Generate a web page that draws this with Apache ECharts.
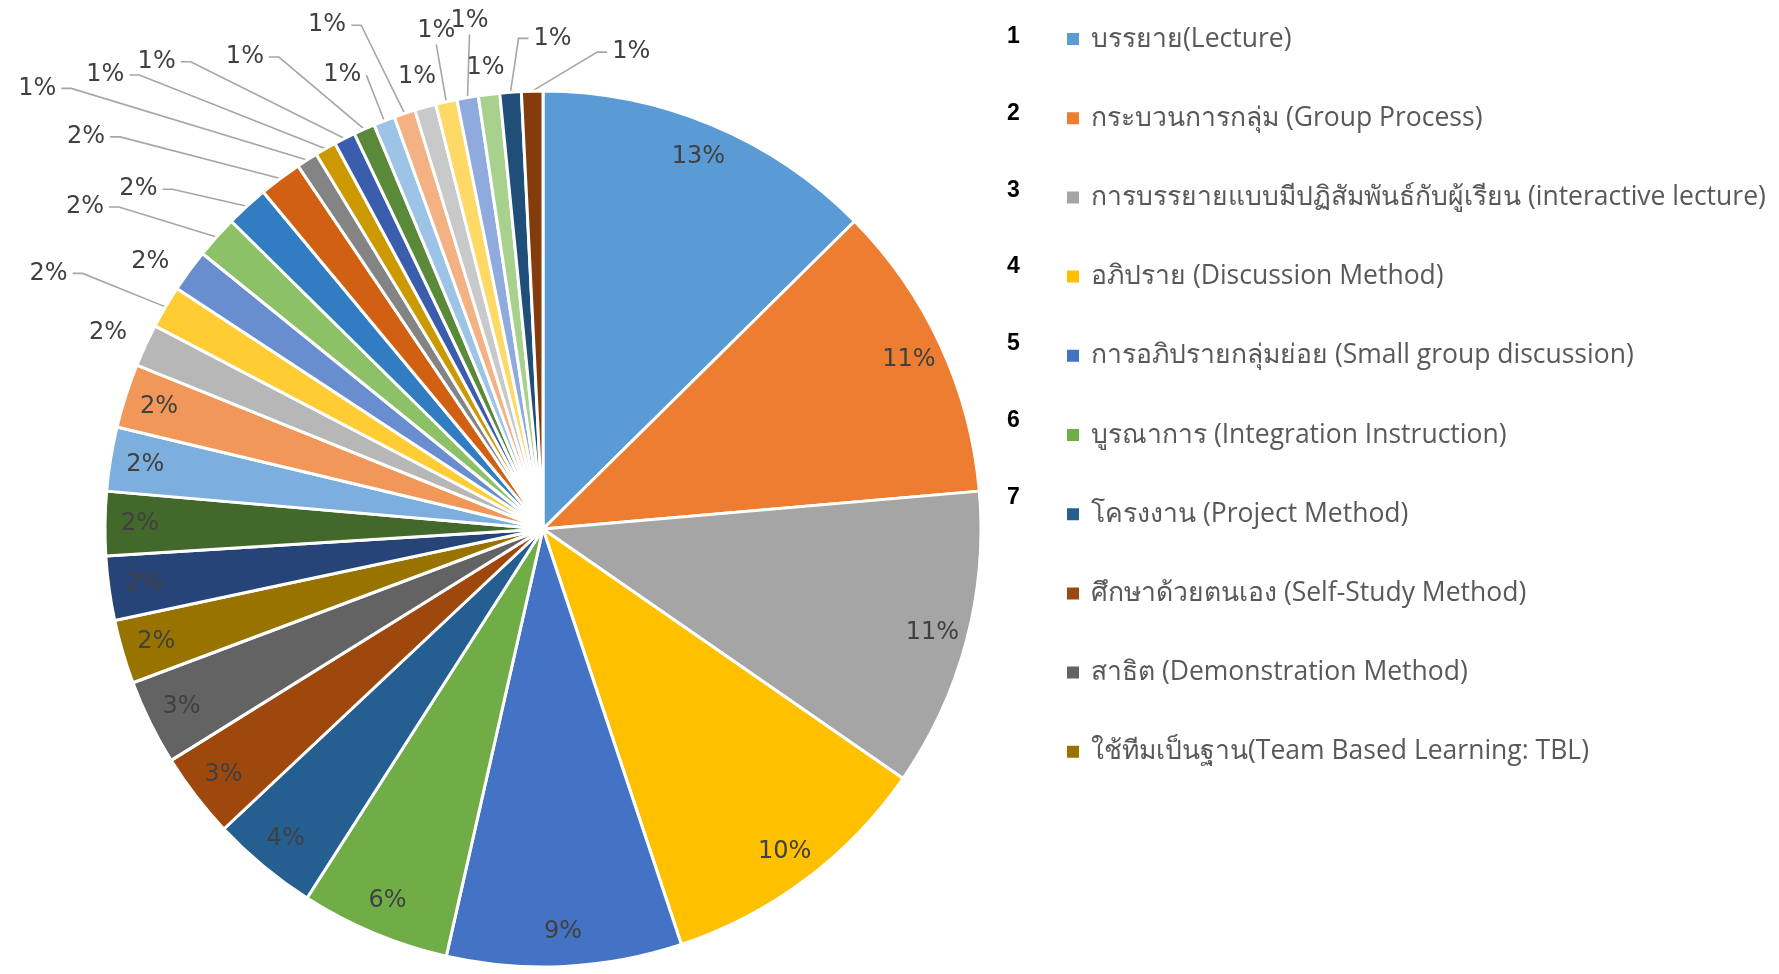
<!DOCTYPE html>
<html>
<head>
<meta charset="utf-8">
<script src="https://cdn.jsdelivr.net/npm/echarts@6/dist/echarts.min.js"></script>
<style>
html,body{margin:0;padding:0;background:#ffffff;}
#chart{width:1779px;height:974px;}
</style>
</head>
<body>
<div id="chart"></div>
<script>
// ---------- DATA ----------
const categories = [
  'บรรยาย(Lecture)',
  'กระบวนการกลุ่ม (Group Process)',
  'การบรรยายแบบมีปฏิสัมพันธ์กับผู้เรียน (interactive lecture)',
  'อภิปราย (Discussion Method)',
  'การอภิปรายกลุ่มย่อย (Small group discussion)',
  'บูรณาการ (Integration Instruction)',
  'โครงงาน (Project Method)',
  'ศึกษาด้วยตนเอง (Self-Study Method)',
  'สาธิต (Demonstration Method)',
  'ใช้ทีมเป็นฐาน(Team Based Learning: TBL)',
  'Item 11', 'Item 12', 'Item 13', 'Item 14', 'Item 15', 'Item 16',
  'Item 17', 'Item 18', 'Item 19', 'Item 20', 'Item 21', 'Item 22',
  'Item 23', 'Item 24', 'Item 25', 'Item 26', 'Item 27', 'Item 28',
  'Item 29', 'Item 30', 'Item 31', 'Item 32'
];
const values = [16, 14, 14, 13, 11, 7, 5, 4, 4, 3, 3, 3, 3, 3, 2, 2, 2, 2, 2, 2,
                1, 1, 1, 1, 1, 1, 1, 1, 1, 1, 1, 1];
const legendCount = 10;
const sideNumbers = ['1', '2', '3', '4', '5', '6', '7'];

// ---------- STYLE ----------
const colors = [
  '#5B9BD5', '#ED7D31', '#A5A5A5', '#FFC000', '#4472C4', '#70AD47',
  '#255E91', '#9E480E', '#636363', '#997300', '#264478', '#43682B',
  '#7CAFDD', '#F1975A', '#B7B7B7', '#FFCD33', '#698ED0', '#8CC168',
  '#327DC2', '#D26012', '#848484', '#CC9A00', '#3A5DAE', '#5A8A39',
  '#9DC3E6', '#F4B183', '#C9C9C9', '#FFD966', '#8FAADC', '#A9D18E',
  '#1F4E79', '#843C0C'
];
const insideCount = 14; // first slices labelled inside the pie
// outside label styling per slice (index from insideCount): mode, radial length, horizontal length
const outMode = ['C', 'L', 'C', 'L', 'L', 'L', 'L', 'L', 'L', 'L', 'L', 'L', 'C', 'T', 'T', 'C', 'R', 'R'];
const outLen1 = [29, 66, 15, 45, 23, 52, 85, 85, 86, 79, 49, 93, 31, 59, 64, 27, 54, 39];
const outLen2 = [11, 36, 27, 74, 69, 139, 200, 154, 125, 63, 0, 24, 0, -3, -13, 0, -22, -76];

const CX = 543, CY = 529, R = 438;
const labelFont = 'DejaVu Sans';
const labelColor = '#404040';
const total = values.reduce((a, b) => a + b, 0);
const pctText = v => Math.round(v / total * 100) + '%';

const mainData = values.map((v, i) => {
  const item = { name: categories[i], value: v, itemStyle: { color: colors[i] } };
  if (i < insideCount) {
    item.label = { show: false };
    item.labelLine = { show: false };
  } else {
    const k = i - insideCount;
    item.label = { show: true };
    item.labelLine = {
      show: outMode[k] !== 'C',
      length: outLen1[k],
      length2: Math.abs(outLen2[k])
    };
  }
  return item;
});

const overlayData = values.map((v, i) => ({
  name: categories[i], value: v,
  label: { show: i < insideCount }
}));

const chart = echarts.init(document.getElementById('chart'), null, { renderer: 'canvas' });

// side numbers next to the legend, drawn as title components
const numberTitles = sideNumbers.map((t, k) => ({
  text: t,
  left: 1007, top: 24 + k * 76.7,
  padding: 0,
  textStyle: {
    fontFamily: 'Liberation Sans', fontSize: 23, fontWeight: 'bold',
    color: '#000000', lineHeight: 26
  }
}));

chart.setOption({
  animation: false,
  backgroundColor: '#ffffff',
  color: colors,
  title: numberTitles,
  legend: {
    orient: 'vertical',
    left: 1065, top: 24,
    padding: 0,
    data: categories.slice(0, legendCount),
    icon: 'rect',
    itemWidth: 14, itemHeight: 14,
    itemGap: 49.2,
    selectedMode: false,
    textStyle: {
      fontFamily: '"Open Sans", "Noto Sans", sans-serif',
      fontSize: 26.5, color: '#595959', lineHeight: 30,
      padding: [0, 0, 0, 6]
    }
  },
  series: [
    {
      type: 'pie',
      center: [CX, CY],
      radius: [0, R],
      startAngle: 90,
      clockwise: true,
      avoidLabelOverlap: false,
      silent: true,
      data: mainData,
      itemStyle: { borderColor: '#ffffff', borderWidth: 3 },
      label: {
        position: 'outside',
        formatter: p => pctText(p.value),
        fontFamily: labelFont, fontSize: 24, color: labelColor
      },
      labelLine: {
        lineStyle: { color: '#a6a6a6', width: 1.6 },
        minTurnAngle: 0,
        maxSurfaceAngle: 180
      },
      labelLayout: function (p) {
        const i = p.dataIndex - insideCount;
        if (i < 0) return;
        const m = outMode[i];
        if (m === 'C') {
          const r = p.labelRect;
          return { x: r.x + r.width + 5, y: r.y + r.height / 2, align: 'center', verticalAlign: 'middle' };
        }
        const pts = p.labelLinePoints;
        if (!pts) return;
        const rim = pts[0], knee = pts[1];
        const ax = knee[0] - outLen2[i], ay = knee[1];
        if (m === 'L') {
          const ex = (rim[0] - ax > 20) ? ax + 10 : ax;
          return { x: ax - 5, y: ay, align: 'right', verticalAlign: 'middle',
                   labelLinePoints: [rim, [ex, ay], [ax, ay]] };
        }
        if (m === 'R') {
          const ex = (ax - rim[0] > 15) ? ax - 10 : ax;
          return { x: ax + 5, y: ay, align: 'left', verticalAlign: 'middle',
                   labelLinePoints: [rim, [ex, ay], [ax, ay]] };
        }
        // 'T' : text sits above the end of the leader
        return { x: ax, y: ay - 2, align: 'center', verticalAlign: 'bottom',
                 labelLinePoints: [rim, [ax, ay], [ax, ay]] };
      }
    },
    {
      type: 'pie',
      center: [CX, CY],
      radius: [362, R],
      startAngle: 90,
      clockwise: true,
      silent: true,
      avoidLabelOverlap: false,
      data: overlayData,
      itemStyle: { color: 'rgba(0,0,0,0)', borderWidth: 0 },
      emphasis: { disabled: true },
      label: {
        position: 'inside',
        formatter: p => pctText(p.value),
        fontFamily: labelFont, fontSize: 24, color: labelColor
      },
      labelLine: { show: false }
    }
  ]
});
</script>
</body>
</html>
